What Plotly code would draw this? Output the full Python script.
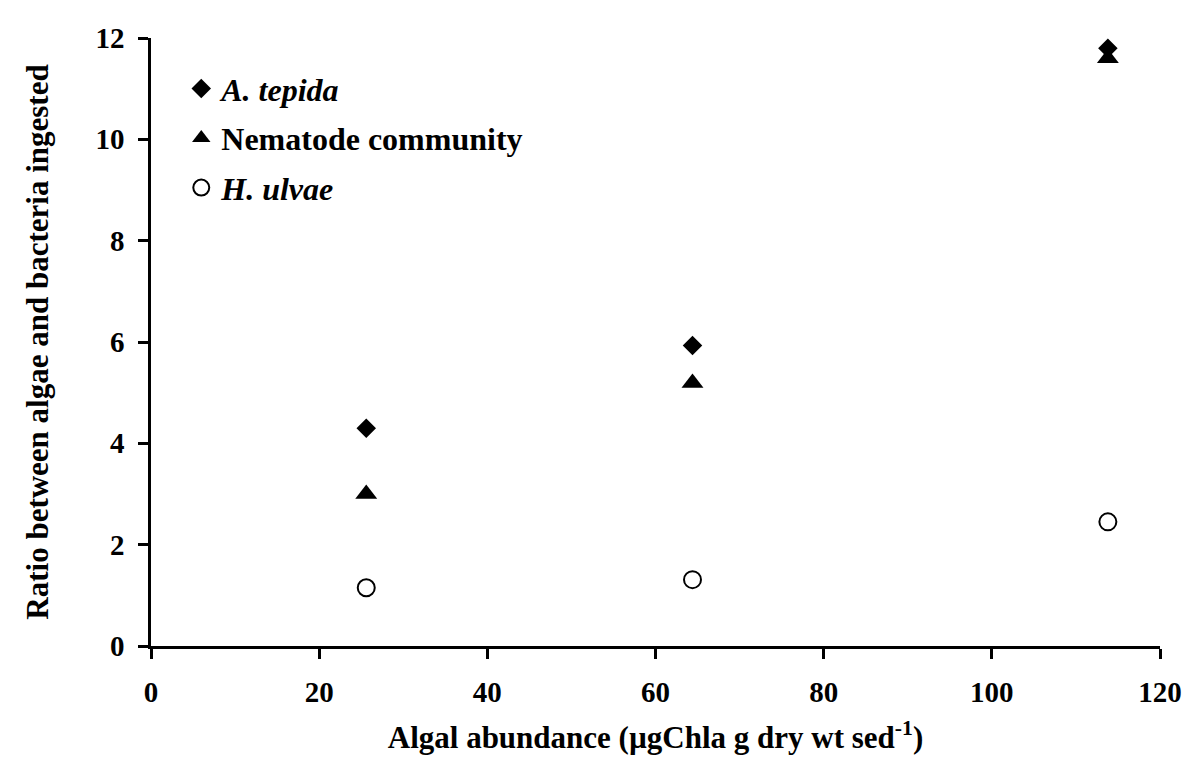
import plotly.graph_objects as go

x_vals = [25.6, 64.4, 113.8]
a_tepida = [4.30, 5.93, 11.80]
nematode = [3.00, 5.19, 11.60]
h_ulvae = [1.15, 1.31, 2.45]
x_ticks = [0, 20, 40, 60, 80, 100, 120]
y_ticks = [0, 2, 4, 6, 8, 10, 12]

font_family = "Liberation Serif"

fig = go.Figure()
fig.add_trace(go.Scatter(x=x_vals, y=a_tepida, mode="markers", name="<b><i>A. tepida</i></b>",
                         legendgroup="a",
                         marker=dict(symbol="diamond", size=15, color="black")))
fig.add_trace(go.Scatter(x=x_vals, y=nematode, mode="markers", name="<b>Nematode community</b>",
                         legendgroup="b",
                         marker=dict(symbol="triangle-up", size=19, color="black")))
fig.add_trace(go.Scatter(x=x_vals, y=h_ulvae, mode="markers", name="<b><i>H. ulvae</i></b>",
                         legendgroup="c",
                         marker=dict(symbol="circle-open", size=17, color="black", line=dict(width=2, color="black"))))

fig.update_layout(
    width=1190, height=761,
    margin=dict(l=143, r=38, t=30, b=123),
    paper_bgcolor="white", plot_bgcolor="white",
    font=dict(family=font_family, color="black", size=29),
    showlegend=True,
    legend=dict(x=0.03, y=0.962, xanchor="left", yanchor="top",
                font=dict(size=32, family=font_family), bgcolor="rgba(0,0,0,0)",
                itemsizing="trace", tracegroupgap=5),
    xaxis=dict(range=[0, 120], tickvals=x_ticks, ticktext=[f"<b>{v}</b>" for v in x_ticks],
               showline=True, linecolor="black", linewidth=2.5, ticks="outside", ticklen=10,
               tickwidth=2.5, tickcolor="black", showgrid=False, zeroline=False,
               tickfont=dict(size=29, family=font_family), ticklabelstandoff=8,
               title=dict(text="<b>Algal abundance (µgChla g dry wt sed<sup>-1</sup>)</b>",
                          font=dict(size=31, family=font_family), standoff=20)),
    yaxis=dict(range=[0, 12], tickvals=y_ticks, ticktext=[f"<b>{v}</b>" for v in y_ticks],
               showline=True, linecolor="black", linewidth=2.5, ticks="outside", ticklen=10,
               tickwidth=2.5, tickcolor="black", showgrid=False, zeroline=False,
               tickfont=dict(size=29, family=font_family), ticklabelstandoff=8,
               title=dict(text="<b>Ratio between algae and bacteria ingested</b>",
                          font=dict(size=31, family=font_family), standoff=38)),
)

fig.write_html("out.html")
